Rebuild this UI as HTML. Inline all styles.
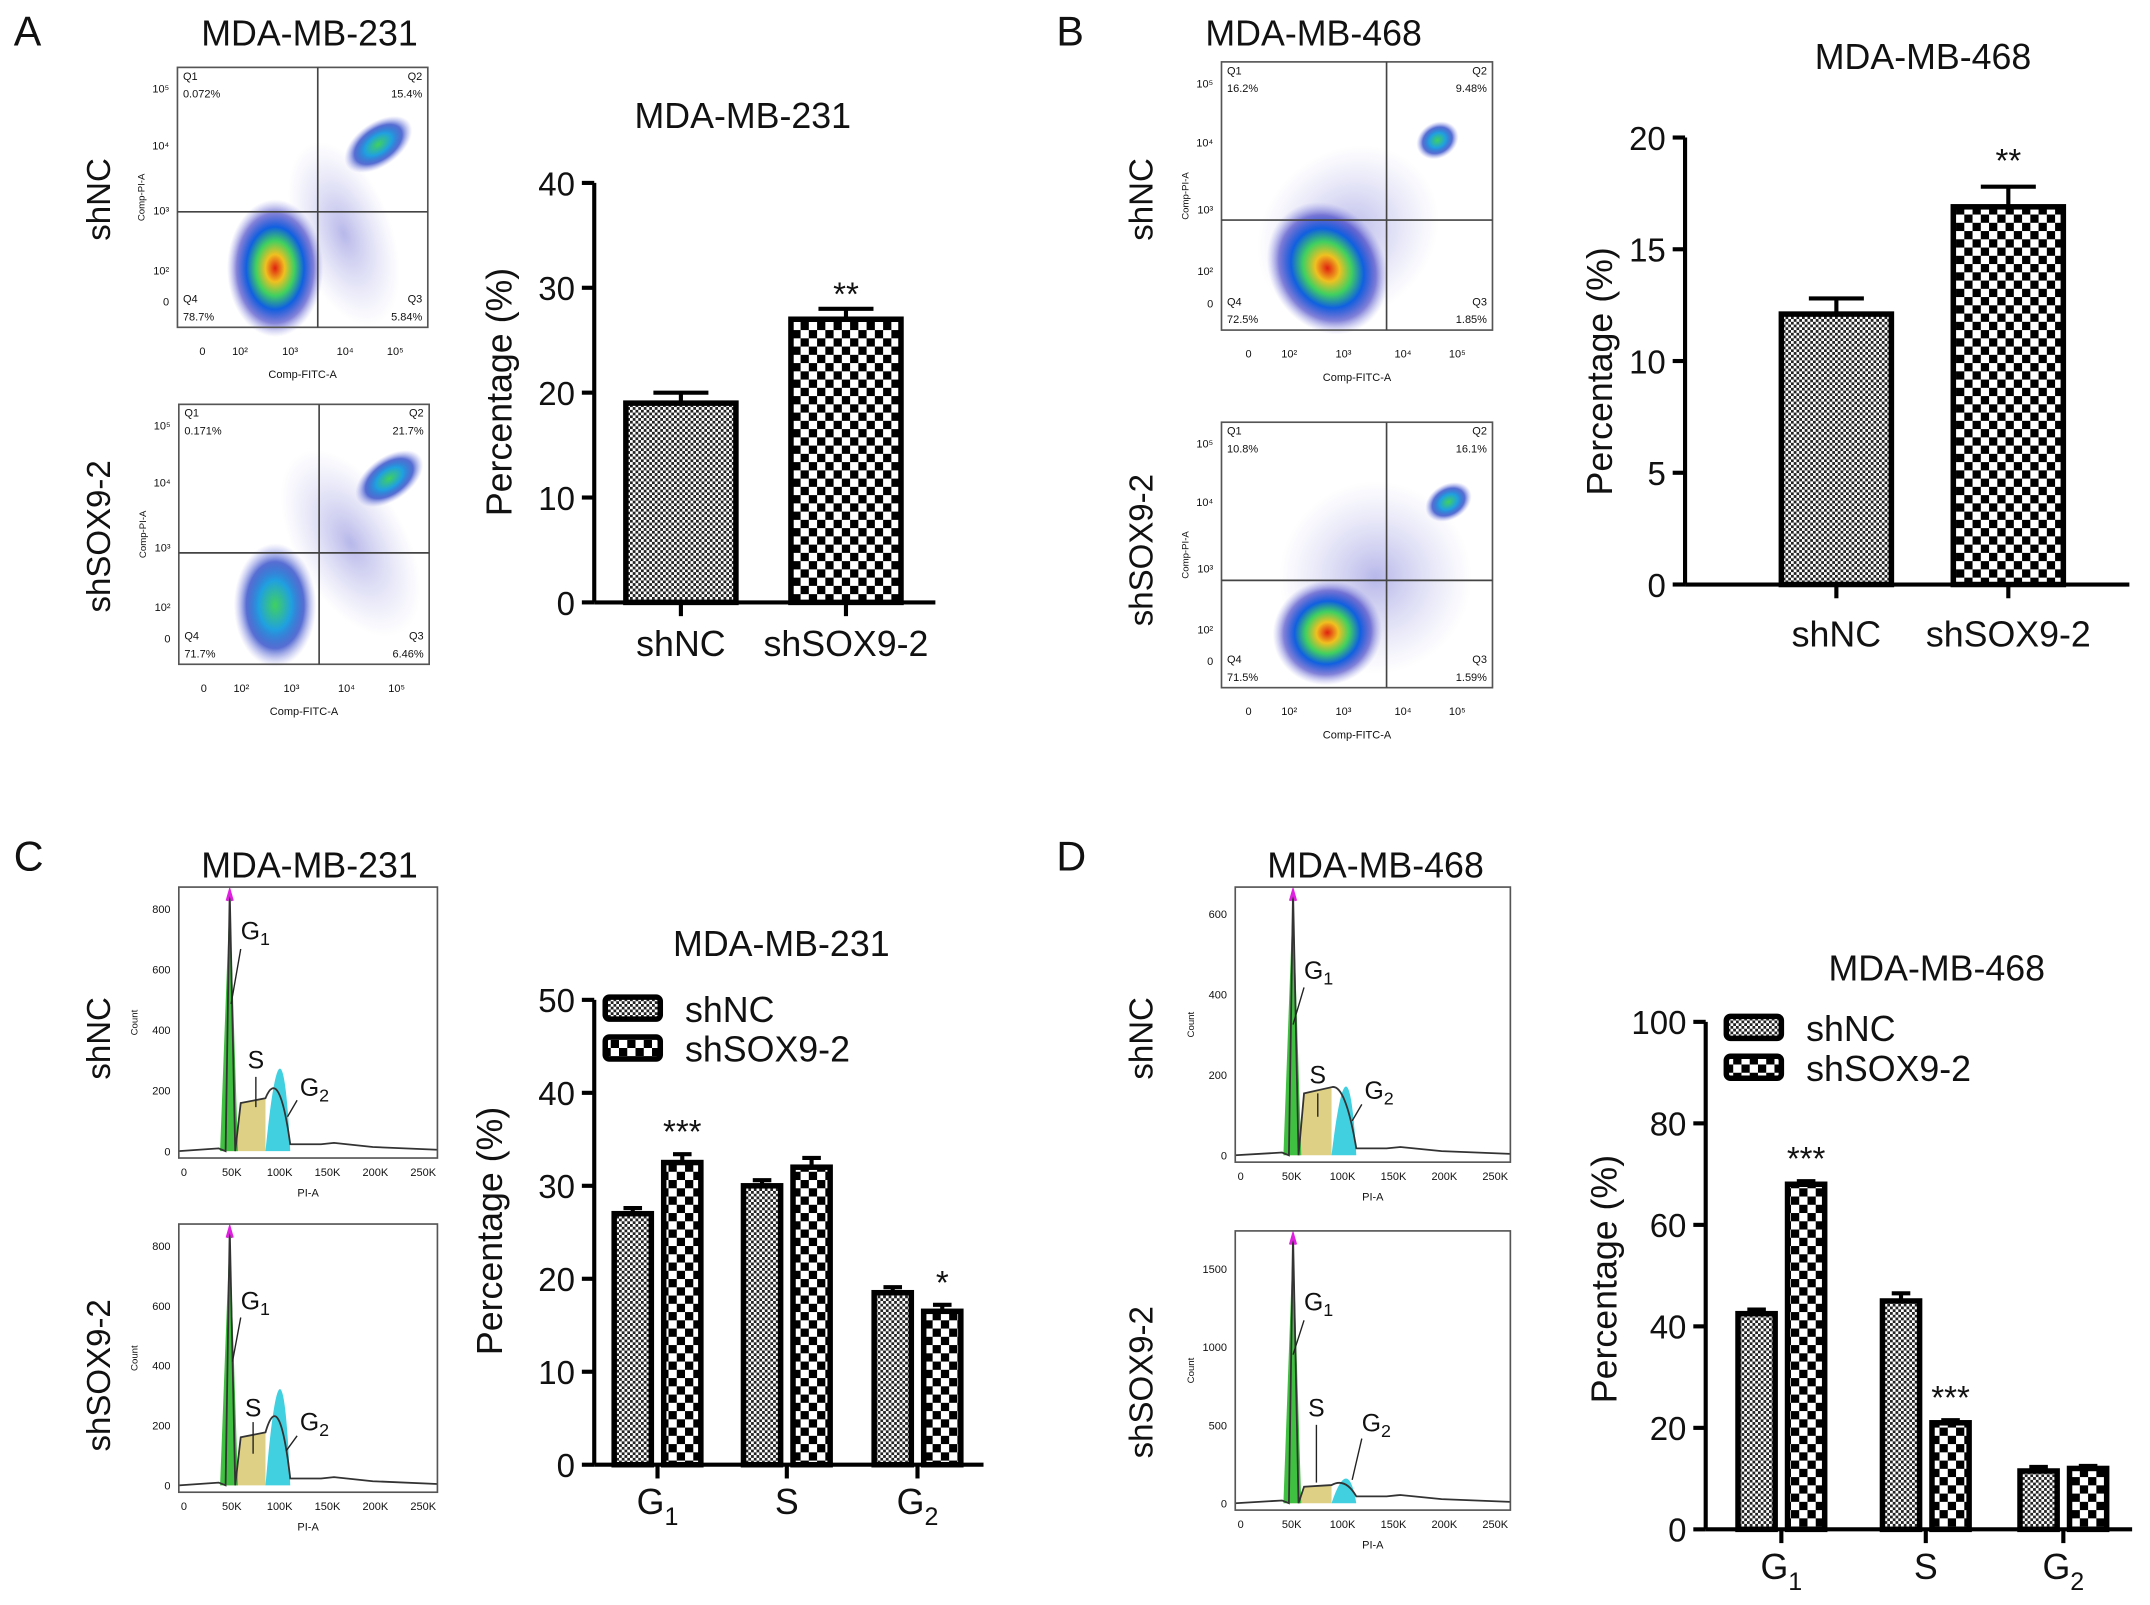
<!DOCTYPE html>
<html><head><meta charset="utf-8"><style>
html,body{margin:0;padding:0;background:#fff}
svg{display:block}
text{font-family:"Liberation Sans",Arial,sans-serif}
</style></head><body>
<svg id="fig" width="2150" height="1605" viewBox="0 0 1563 1167" preserveAspectRatio="none" xmlns="http://www.w3.org/2000/svg">
<defs>
<pattern id="fine" width="4" height="4" patternUnits="userSpaceOnUse"><rect width="4" height="4" fill="#fff"/><rect width="2" height="2" fill="#222"/><rect x="2" y="2" width="2" height="2" fill="#222"/></pattern>
<pattern id="coarse" width="12" height="12" patternUnits="userSpaceOnUse"><rect width="12" height="12" fill="#fff"/><rect width="6" height="6" fill="#000"/><rect x="6" y="6" width="6" height="6" fill="#000"/></pattern>
<radialGradient id="blob"><stop offset="0" stop-color="#e02010"/><stop offset="0.2" stop-color="#f0c020"/><stop offset="0.4" stop-color="#40d060"/><stop offset="0.6" stop-color="#1060e0"/><stop offset="0.8" stop-color="#3030c0" stop-opacity="0.6"/><stop offset="1" stop-color="#8080e0" stop-opacity="0"/></radialGradient>
<radialGradient id="blob2"><stop offset="0" stop-color="#40d060"/><stop offset="0.4" stop-color="#20a0e0"/><stop offset="0.7" stop-color="#1030c0" stop-opacity="0.7"/><stop offset="1" stop-color="#8080e0" stop-opacity="0"/></radialGradient>
<radialGradient id="haze"><stop offset="0" stop-color="#6060d0" stop-opacity="0.45"/><stop offset="1" stop-color="#9090e0" stop-opacity="0"/></radialGradient>
</defs>
</svg>
<script>
const NS="http://www.w3.org/2000/svg";
const svg=document.getElementById('fig');
function mk(tag,attrs,parent,txt){const e=document.createElementNS(NS,tag);for(const k in attrs)e.setAttribute(k,attrs[k]);if(txt!==undefined)e.textContent=txt;(parent||svg).appendChild(e);return e;}

// ---- data ----
const catsA=["shNC","shSOX9-2"];
const valsA=[19,27];
const errA=[1,1];
const sigA=["","**"];
const ticksA=[0,10,20,30,40];

const catsB=["shNC","shSOX9-2"];
const valsB=[12.1,16.9];
const errB=[0.7,0.9];
const sigB=["","**"];
const ticksB=[0,5,10,15,20];

const catsC=["G1","S","G2"];
const shNC_C=[27,30,18.5];
const shSOX_C=[32.5,32,16.5];
const errNC_C=[0.6,0.6,0.6];
const errSOX_C=[0.9,1,0.7];
const sigC=["***","","*"];
const ticksC=[0,10,20,30,40,50];

const catsD=["G1","S","G2"];
const shNC_D=[42.5,45,11.5];
const shSOX_D=[68,21,12];
const errNC_D=[0.8,1.5,0.8];
const errSOX_D=[0.6,0.5,0.5];
const sigD=["***","***",""];
const ticksD=[0,20,40,60,80,100];

function text(x,y,s,size,anchor,parent,rot){const t=mk('text',{x:x,y:y,'font-size':size,'text-anchor':anchor||'middle',fill:'#111'},parent,s);if(rot)t.setAttribute('transform',`rotate(-90 ${x} ${y})`);return t;}

function axes(g,x0,yTop,yBot,xEnd,ticks,max,size){
  const ys=v=>yBot-(v/max)*(yBot-yTop);
  mk('line',{x1:x0,y1:yTop,x2:x0,y2:yBot,stroke:'#000','stroke-width':3},g);
  mk('line',{x1:x0,y1:yBot,x2:xEnd,y2:yBot,stroke:'#000','stroke-width':3},g);
  ticks.forEach(t=>{mk('line',{x1:x0-9,y1:ys(t),x2:x0,y2:ys(t),stroke:'#000','stroke-width':3},g);text(x0-14,ys(t)+9,String(t),size,'end',g);});
  return ys;
}
function bar(g,cx,w,v,e,ys,fill,name){
  const r=mk('rect',{x:cx-w/2,y:ys(v),width:w,height:ys(0)-ys(v),fill:fill,stroke:'#000','stroke-width':4},g);
  
  
  mk('line',{x1:cx,y1:ys(v),x2:cx,y2:ys(v+e),stroke:'#000','stroke-width':3},g);
  mk('line',{x1:cx-w/4,y1:ys(v+e),x2:cx+w/4,y2:ys(v+e),stroke:'#000','stroke-width':3},g);
}
function gLabel(g,x,y,lab,size){
  if(lab.length===2){const t=text(x,y,lab[0],size,'middle',g);mk('tspan',{'font-size':size*0.7,dy:8},t,lab[1]);}
  else text(x,y,lab,size,'middle',g);
}

(function(){
  const g=mk('g',{});
  text(540,93,'MDA-MB-231',26,'middle',g);
  const ys=axes(g,432,133,438,680,ticksA,40,24);
  const xs=[495,615];
  catsA.forEach((c,i)=>{bar(g,xs[i],80,valsA[i],errA[i],ys,i?'url(#coarse)':'url(#fine)','bar-a-'+c.toLowerCase());
    mk('line',{x1:xs[i],y1:438,x2:xs[i],y2:448,stroke:'#000','stroke-width':3},g);
    text(xs[i],477,c,26,'middle',g);
    if(sigA[i])text(xs[i],222,sigA[i],24,'middle',g);});
  text(372,285,'Percentage (%)',26,'middle',g,true);
})();
(function(){
  const g=mk('g',{});
  text(1398,50,'MDA-MB-468',26,'middle',g);
  const ys=axes(g,1225,100,425,1548,ticksB,20,24);
  const xs=[1335,1460];
  catsB.forEach((c,i)=>{bar(g,xs[i],80,valsB[i],errB[i],ys,i?'url(#coarse)':'url(#fine)','bar-b-'+c.toLowerCase());
    mk('line',{x1:xs[i],y1:425,x2:xs[i],y2:435,stroke:'#000','stroke-width':3},g);
    text(xs[i],470,c,26,'middle',g);
    if(sigB[i])text(xs[i],125,sigB[i],24,'middle',g);});
  text(1172,270,'Percentage (%)',26,'middle',g,true);
})();
function groupChart(name,x0,yTop,yBot,xEnd,ticks,max,centers,nc,sox,enc,esox,sig,cats,title,tx,ty,leg){
  const g=mk('g',{});
  text(tx,ty,title,26,'middle',g);
  const ys=axes(g,x0,yTop,yBot,xEnd,ticks,max,24);
  cats.forEach((c,i)=>{const cx=centers[i];
    bar(g,cx-18,27,nc[i],enc[i],ys,'url(#fine)',name+'-shnc-'+c.toLowerCase());
    bar(g,cx+18,27,sox[i],esox[i],ys,'url(#coarse)',name+'-shsox9-'+c.toLowerCase());
    mk('line',{x1:cx,y1:yBot,x2:cx,y2:yBot+10,stroke:'#000','stroke-width':3},g);
    gLabel(g,cx,yBot+36,c,26);
    if(sig[i]){text(cx+18,ys(sox[i]+esox[i])-8,sig[i],24,'middle',g);}
  });
  const lg=mk('g',{},g);
  mk('rect',{x:leg[0],y:leg[1],width:40,height:16,rx:3,fill:'url(#fine)',stroke:'#000','stroke-width':4},lg);
  mk('rect',{x:leg[0],y:leg[1]+29,width:40,height:16,rx:3,fill:'url(#coarse)',stroke:'#000','stroke-width':4},lg);
  text(leg[0]+58,leg[1]+18,'shNC',26,'start',lg);
  text(leg[0]+58,leg[1]+47,'shSOX9-2',26,'start',lg);
  return g;
}
const gc=groupChart('bar-chart-c',432,727,1065,715,ticksC,50,[478,572,667],shNC_C,shSOX_C,errNC_C,errSOX_C,sigC,catsC,'MDA-MB-231',568,695,[440,725]);
text(365,895,'Percentage (%)',26,'middle',gc,true);
const gd=groupChart('bar-chart-d',1240,743,1112,1550,ticksD,100,[1295,1400,1500],shNC_D,shSOX_D,errNC_D,errSOX_D,sigD,catsD,'MDA-MB-468',1408,713,[1255,739]);
text(1175,930,'Percentage (%)',26,'middle',gd,true);

[['A',10,33],['B',768,33],['C',10,633],['D',768,633]].forEach(p=>{const t=text(p[1],p[2],p[0],30,'start');});
[['MDA-MB-231',225,33],['MDA-MB-468',955,33],['MDA-MB-231',225,638],['MDA-MB-468',1000,638]].forEach(p=>{const t=text(p[1],p[2],p[0],26);});
[['shNC',80,145],['shSOX9-2',80,390],['shNC',838,145],['shSOX9-2',838,400],['shNC',80,755],['shSOX9-2',80,1000],['shNC',838,755],['shSOX9-2',838,1005]].forEach(p=>{const t=text(p[1],p[2],p[0],24,'middle',svg,true);});

function flow(x,y,w,h,qx,qy,q,blobs){
  const g=mk('g',{});
  blobs.forEach(b=>mk('ellipse',{cx:b[0],cy:b[1],rx:b[2],ry:b[3],fill:'url(#'+b[4]+')',transform:`rotate(${b[5]||0} ${b[0]} ${b[1]})`},g));
  mk('rect',{x:x,y:y,width:w,height:h,fill:'none',stroke:'#555','stroke-width':1.2},g);
  mk('line',{x1:qx,y1:y,x2:qx,y2:y+h,stroke:'#444','stroke-width':1.2},g);
  mk('line',{x1:x,y1:qy,x2:x+w,y2:qy,stroke:'#444','stroke-width':1.2},g);
  const f=8;
  text(x+4,y+9,'Q1',f,'start',g);text(x+4,y+22,q[0],f,'start',g);
  text(x+w-4,y+9,'Q2',f,'end',g);text(x+w-4,y+22,q[1],f,'end',g);
  text(x+4,y+h-18,'Q4',f,'start',g);text(x+4,y+h-5,q[2],f,'start',g);
  text(x+w-4,y+h-18,'Q3',f,'end',g);text(x+w-4,y+h-5,q[3],f,'end',g);
  const xl=['0','10²','10³','10⁴','10⁵'],xp=[0.1,0.25,0.45,0.67,0.87];
  xl.forEach((l,i)=>text(x+xp[i]*w,y+h+20,l,8,'middle',g));
  const yl=['10⁵','10⁴','10³','10²','0'],yp=[0.08,0.3,0.55,0.78,0.9];
  yl.forEach((l,i)=>text(x-6,y+yp[i]*h+3,l,8,'end',g));
  text(x+w/2,y+h+37,'Comp-FITC-A',8,'middle',g);
  text(x-24,y+h/2,'Comp-PI-A',7,'middle',g,true);
}
flow(129,49,182,189,231,154,['0.072%','15.4%','78.7%','5.84%'],[[250,170,35,70,'haze',-20],[200,195,35,50,'blob',0],[275,105,28,16,'blob2',-35]]);
flow(130,294,182,189,232,402,['0.171%','21.7%','71.7%','6.46%'],[[255,395,40,75,'haze',-30],[200,440,30,45,'blob2',0],[283,348,28,16,'blob2',-35]]);
flow(888,45,197,195,1008,160,['16.2%','9.48%','72.5%','1.85%'],[[980,170,70,60,'haze',-40],[965,195,42,50,'blob',-30],[1045,102,16,13,'blob2',-30]]);
flow(888,307,197,193,1008,422,['10.8%','16.1%','71.5%','1.59%'],[[1000,420,70,70,'haze',-40],[965,460,40,38,'blob',-20],[1053,365,18,13,'blob2',-30]]);

function hist(x,y,w,h,maxY,ticks,pk,g1x,g2x,sH,g2H,lbl){
  const g=mk('g',{});
  const b=y+h-5;
  mk('path',{d:`M${g1x-8} ${b} L${g1x-3} ${b-pk*0.4} L${g1x} ${y+5} L${g1x+4} ${b-pk*0.5} L${g1x+8} ${b-sH} L${g2x-12} ${b-sH*1.1} L${g2x-12} ${b} Z`,fill:'#d8c870',opacity:0.85},g);
  mk('path',{d:`M${g1x-7} ${b} L${g1x} ${y+5} L${g1x+6} ${b} Z`,fill:'#40c040'},g);
  mk('path',{d:`M${g2x-12} ${b} Q${g2x} ${b-g2H*2} ${g2x+6} ${b}Z`,fill:'#40d0e0'},g);
  mk('path',{d:`M${x} ${b} L${g1x-8} ${b-2} L${g1x-3} ${b-pk*0.4} L${g1x} ${y+3} L${g1x+4} ${b-pk*0.5} L${g1x+8} ${b-sH} L${g2x-12} ${b-sH*1.1} Q${g2x-2} ${b-g2H*1.05} ${g2x+6} ${b-5} L${x+w*0.55} ${b-5} L${x+w*0.6} ${b-6} L${x+w*0.75} ${b-3} L${x+w} ${b-1}`,fill:'none',stroke:'#333','stroke-width':1.3},g);
  mk('path',{d:`M${g1x-2} ${y+10} L${g1x} ${y+3} L${g1x+2} ${y+10}`,fill:'none',stroke:'#e020e0','stroke-width':2},g);
  mk('rect',{x:x,y:y,width:w,height:h,fill:'none',stroke:'#555','stroke-width':1.2},g);
  ticks.forEach(t=>{const yy=b-(t/maxY)*(h-10);text(x-6,yy+3,String(t),8,'end',g);});
  ['0','50K','100K','150K','200K','250K'].forEach((l,i)=>text(x+w*(0.02+i*0.185),y+h+13,l,8,'middle',g));
  text(x+w/2,y+h+28,'PI-A',8,'middle',g);
  text(x-30,y+h/2,'Count',7,'middle',g,true);
  lbl.forEach(l=>{const t=text(l[1],l[2],l[0],18,'start',g);if(l[0]!=='S'){t.textContent='G';mk('tspan',{'font-size':13,dy:4},t,l[0].slice(1));}
    mk('line',{x1:l[3],y1:l[4],x2:l[5],y2:l[6],stroke:'#222','stroke-width':1},g);});
}
hist(130,645,188,197,850,[0,200,400,600,800],0,167,205,35,60,[['G1',175,683,175,690,168,730],['S',180,777,186,783,186,805],['G2',218,797,216,800,209,812]]);
hist(130,890,188,195,850,[0,200,400,600,800],0,167,205,35,70,[['G1',175,952,175,958,169,990],['S',178,1030,184,1034,184,1057],['G2',218,1040,216,1044,208,1055]]);
hist(898,645,200,200,650,[0,200,400,600],0,940,980,45,50,[['G1',948,712,948,718,940,745],['S',952,788,958,795,958,812],['G2',992,799,990,803,983,815]]);
hist(898,895,200,203,1700,[0,500,1000,1500],0,940,980,12,18,[['G1',948,953,948,960,940,985],['S',951,1030,957,1036,957,1078],['G2',990,1041,990,1046,983,1076]]);
</script>
</body></html>
